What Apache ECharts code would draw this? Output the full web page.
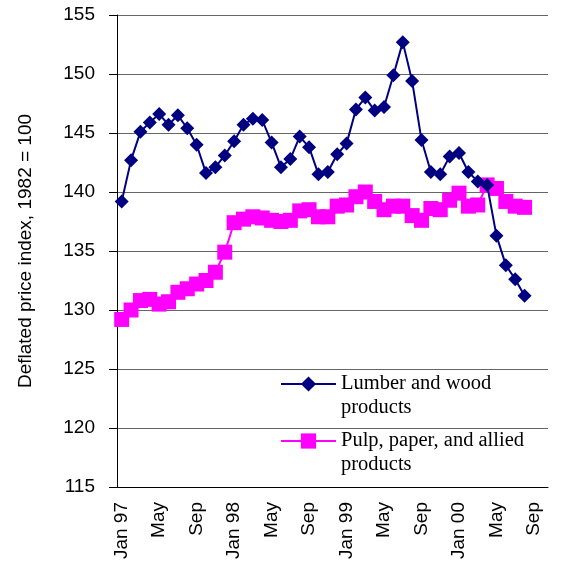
<!DOCTYPE html>
<html>
<head>
<meta charset="utf-8">
<script src="https://cdn.jsdelivr.net/npm/echarts@6/dist/echarts.min.js"></script>
<style>
  html, body { margin: 0; padding: 0; background: #fff; }
  #chart { width: 568px; height: 564px; }
</style>
</head>
<body>
<div id="chart"></div>
<script>
// monthly categories, Jan 97 .. Oct 00 (last month is an empty slot on the axis)
const months = [
    'Jan 97', 'Feb 97', 'Mar 97', 'Apr 97', 'May 97', 'Jun 97', 'Jul 97', 'Aug 97', 'Sep 97', 'Oct 97', 'Nov 97', 'Dec 97',
    'Jan 98', 'Feb 98', 'Mar 98', 'Apr 98', 'May 98', 'Jun 98', 'Jul 98', 'Aug 98', 'Sep 98', 'Oct 98', 'Nov 98', 'Dec 98',
    'Jan 99', 'Feb 99', 'Mar 99', 'Apr 99', 'May 99', 'Jun 99', 'Jul 99', 'Aug 99', 'Sep 99', 'Oct 99', 'Nov 99', 'Dec 99',
    'Jan 00', 'Feb 00', 'Mar 00', 'Apr 00', 'May 00', 'Jun 00', 'Jul 00', 'Aug 00', 'Sep 00', 'Oct 00'
];

const lumber = [
    139.2, 142.7, 145.1, 145.9, 146.6, 145.7, 146.5, 145.4, 144.0, 141.6, 142.1, 143.1,
    144.3, 145.7, 146.2, 146.1, 144.2, 142.1, 142.8, 144.7, 143.8, 141.5, 141.7, 143.2,
    144.1, 147.0, 148.0, 146.9, 147.2, 149.9, 152.7, 149.4, 144.4, 141.7, 141.5, 143.0,
    143.3, 141.7, 140.9, 140.6, 136.3, 133.8, 132.6, 131.2
];

const pulp = [
    129.2, 130.0, 130.8, 130.9, 130.5, 130.7, 131.5, 131.8, 132.2, 132.5, 133.2, 134.9,
    137.4, 137.7, 137.9, 137.8, 137.6, 137.5, 137.6, 138.4, 138.5, 137.9, 137.9, 138.8,
    138.9, 139.6, 140.0, 139.2, 138.5, 138.8, 138.8, 138.0, 137.6, 138.6, 138.5, 139.3,
    139.9, 138.8, 138.9, 140.6, 140.3, 139.2, 138.8, 138.7
];

const lumberName = 'Lumber and wood\nproducts';
const pulpName = 'Pulp, paper, and allied\nproducts';

const chart = echarts.init(document.getElementById('chart'));

// leading empty line puts the icon next to the first text line
const legendText = {
    fontFamily: 'Liberation Serif',
    fontSize: 20.5,
    color: '#000',
    lineHeight: 24
};

const legendBase = {
    left: 275,
    itemWidth: 55,
    itemHeight: 19,
    textStyle: legendText,
    formatter: name => '\n' + name
};

const option = {
    animation: false,
    grid: {
        left: 117,
        right: 20,
        top: 15,
        bottom: 77
    },
    legend: [
        Object.assign({ data: [lumberName], top: 343 }, legendBase),
        Object.assign({ data: [pulpName], top: 400 }, legendBase)
    ],
    xAxis: {
        type: 'category',
        data: months,
        boundaryGap: true,
        axisLine: { lineStyle: { color: '#000', width: 1 } },
        axisTick: {
            interval: 0,
            length: 6,
            lineStyle: { color: '#000' }
        },
        axisLabel: {
            interval: 3,
            rotate: 90,
            margin: 15,
            color: '#000',
            fontFamily: 'Liberation Sans',
            fontSize: 19,
            formatter: v => v.startsWith('Jan') ? v : v.slice(0, 3)
        },
        splitLine: { show: false }
    },
    yAxis: {
        type: 'value',
        min: 115,
        max: 155,
        interval: 5,
        name: 'Deflated price index, 1982 = 100',
        nameLocation: 'middle',
        nameGap: 82,
        nameTextStyle: {
            fontFamily: 'Liberation Sans',
            fontSize: 19,
            color: '#000'
        },
        axisLine: { show: true, lineStyle: { color: '#000', width: 1 } },
        axisTick: { show: true, length: 8, lineStyle: { color: '#000' } },
        axisLabel: {
            margin: 22,
            color: '#000',
            fontFamily: 'Liberation Sans',
            fontSize: 19
        },
        splitLine: { lineStyle: { color: '#666', width: 1 } }
    },
    series: [
        {
            name: pulpName,
            type: 'line',
            data: pulp,
            symbol: 'rect',
            symbolSize: 15,
            showAllSymbol: true,
            color: '#FF00FF',
            lineStyle: { width: 2, color: '#FF00FF' },
            itemStyle: { color: '#FF00FF' },
            z: 2
        },
        {
            name: lumberName,
            type: 'line',
            data: lumber,
            symbol: 'diamond',
            symbolSize: 14,
            showAllSymbol: true,
            color: '#000080',
            lineStyle: { width: 2, color: '#000080' },
            itemStyle: { color: '#000080' },
            z: 3
        }
    ]
};

chart.setOption(option);
</script>
</body>
</html>
